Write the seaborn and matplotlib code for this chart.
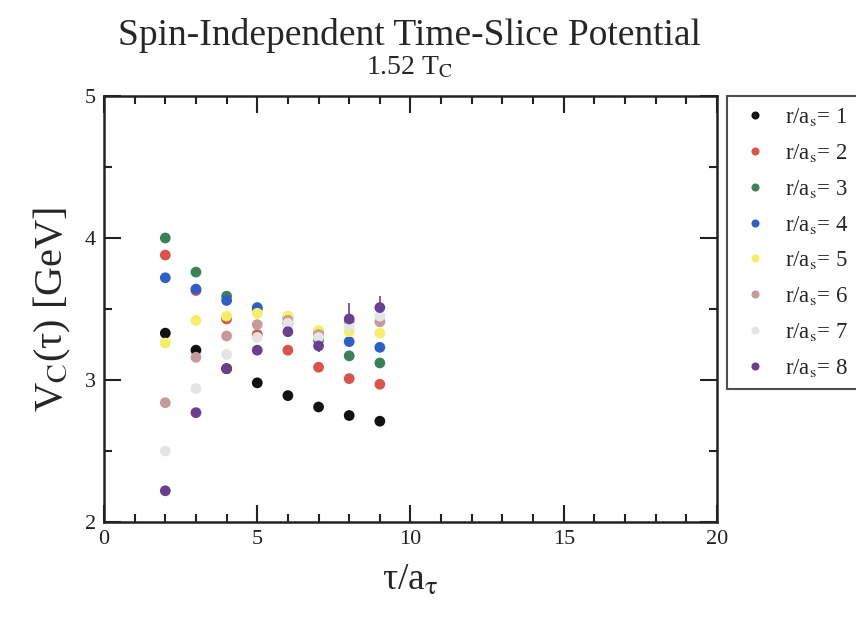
import numpy as np
import pandas as pd
import matplotlib
matplotlib.use("Agg")
import matplotlib.pyplot as plt
import seaborn as sns
from matplotlib.ticker import MultipleLocator

# Time-slice potential V_C(tau) at 1.52 T_C for separations r/a_s = 1..8
tau = [2, 3, 4, 5, 6, 7, 8, 9]
v_r1 = [3.33, 3.21, 3.08, 2.98, 2.89, 2.81, 2.75, 2.71]
v_r2 = [3.88, 3.63, 3.43, 3.32, 3.21, 3.09, 3.01, 2.97]
v_r3 = [4.00, 3.76, 3.59, 3.50, 3.40, 3.28, 3.17, 3.12]
v_r4 = [3.72, 3.64, 3.56, 3.51, 3.44, 3.34, 3.27, 3.23]
v_r5 = [3.26, 3.42, 3.45, 3.47, 3.45, 3.35, 3.34, 3.33]
v_r6 = [2.84, 3.16, 3.31, 3.39, 3.42, 3.32, 3.41, 3.41]
v_r7 = [2.50, 2.94, 3.18, 3.30, 3.40, 3.30, 3.38, 3.45]
v_r8 = [2.22, 2.77, 3.08, 3.21, 3.34, 3.24, 3.43, 3.51]
err_r8 = [0.03, 0.03, 0.03, 0.03, 0.03, 0.04, 0.115, 0.08]

series = [v_r1, v_r2, v_r3, v_r4, v_r5, v_r6, v_r7, v_r8]
labels = [r"r/a$_{\mathrm{s}}$= %d" % (i + 1) for i in range(8)]
colors = ["#111111", "#d9544a", "#3a8158", "#2f5fc4",
          "#f6ee68", "#c49a9a", "#e4e4e4", "#6a3f8e"]

df = pd.DataFrame({
    "tau": np.tile(tau, len(series)),
    "V": np.concatenate(series),
    "r": np.repeat(labels, len(tau)),
})

sns.set_style("ticks")
plt.rcParams["font.family"] = ["Liberation Serif", "DejaVu Serif"]
plt.rcParams["mathtext.fontset"] = "stix"

fig = plt.figure(figsize=(8.56, 6.18), dpi=100)
ax = fig.add_axes([0.1215, 0.1553, 0.7161, 0.6894])

ax.errorbar(tau, v_r8, yerr=err_r8, fmt="none", ecolor=colors[7],
            elinewidth=1.2, capsize=0, zorder=2)
sns.scatterplot(data=df, x="tau", y="V", hue="r", hue_order=labels,
                palette=colors, s=60, linewidth=0, ax=ax, zorder=3,
                legend=True)

ax.set_xlim(0, 20)
ax.set_ylim(2, 5)
ax.xaxis.set_major_locator(MultipleLocator(5))
ax.xaxis.set_minor_locator(MultipleLocator(1))
ax.yaxis.set_major_locator(MultipleLocator(1))
ax.yaxis.set_minor_locator(MultipleLocator(0.5))
ax.tick_params(which="both", direction="in", top=True, right=True,
               width=1.5, colors="#222222", labelsize=16, pad=6)
ax.tick_params(which="major", length=12)
ax.tick_params(which="minor", length=6)
for sp in ax.spines.values():
    sp.set_linewidth(1.8)
    sp.set_color("#222222")

ax.set_xlabel(r"τ/a$_{\mathrm{τ}}$", fontsize=27, labelpad=10)
ax.set_ylabel(r"V$_{\mathrm{C}}$(τ) [GeV]", fontsize=29, labelpad=8)

fig.text(0.478, 0.943, "Spin-Independent Time-Slice Potential",
         ha="center", va="center", fontsize=27)
fig.text(0.478, 0.890, r"1.52 T$_{\mathrm{C}}$", ha="center", va="center",
         fontsize=20)

handles, hl = ax.get_legend_handles_labels()
leg = ax.legend(handles, hl, loc="upper left",
                bbox_to_anchor=(0.849, 0.369, 0.30, 0.4757),
                bbox_transform=fig.transFigure, mode="expand",
                frameon=True, fancybox=False, fontsize=16.5,
                markerscale=0.75, handletextpad=0.5, labelspacing=0.6,
                borderaxespad=0, borderpad=0.45, handlelength=1.6)
leg.get_frame().set_edgecolor("#222222")
leg.get_frame().set_linewidth(1.5)

fig.savefig("out.png", dpi=100)
